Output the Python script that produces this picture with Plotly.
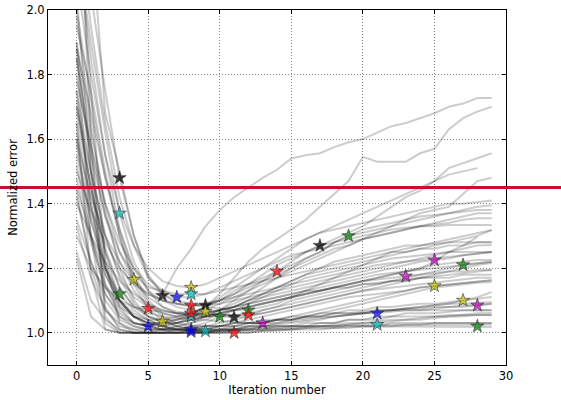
import plotly.graph_objects as go

iterations = list(range(30))

run01 = [2.60, 2.25, 1.68, 1.50, 1.30, 1.17, 1.12, 1.20, 1.26, 1.33, 1.38, 1.42, 1.45, 1.48, 1.505, 1.54, 1.55, 1.556, 1.575, 1.59, 1.60, 1.62, 1.64, 1.65, 1.665, 1.68, 1.70, 1.71, 1.727, 1.727]
run02 = [1.90, 1.50, 1.22, 1.10, 1.05, 1.03, 1.02, 1.03, 1.05, 1.08, 1.12, 1.17, 1.22, 1.26, 1.29, 1.32, 1.35, 1.39, 1.43, 1.47, 1.545, 1.53, 1.53, 1.53, 1.556, 1.57, 1.63, 1.665, 1.685, 1.70]
run03 = [1.75, 1.40, 1.15, 1.05, 1.02, 1.01, 1.01, 1.02, 1.03, 1.05, 1.07, 1.10, 1.13, 1.16, 1.19, 1.22, 1.25, 1.27, 1.29, 1.31, 1.33, 1.36, 1.39, 1.42, 1.44, 1.47, 1.51, 1.525, 1.54, 1.556]
run04 = [1.85, 1.55, 1.25, 1.10, 1.05, 1.03, 1.03, 1.04, 1.06, 1.08, 1.11, 1.14, 1.17, 1.20, 1.23, 1.26, 1.29, 1.31, 1.33, 1.35, 1.37, 1.39, 1.41, 1.43, 1.45, 1.47, 1.49, 1.50, 1.51, None]
run05 = [1.60, 1.30, 1.12, 1.05, 1.03, 1.02, 1.03, 1.04, 1.05, 1.07, 1.09, 1.11, 1.13, 1.15, 1.17, 1.19, 1.21, 1.23, 1.25, 1.27, 1.29, 1.31, 1.33, 1.35, 1.37, 1.38, 1.39, 1.43, 1.47, 1.48]
run06 = [2.40, 2.05, 1.75, 1.48, 1.30, 1.18, 1.12, 1.09, 1.08, 1.09, 1.10, 1.12, 1.14, 1.16, 1.18, 1.20, 1.22, 1.24, 1.26, 1.27, 1.29, 1.30, 1.31, 1.32, 1.33, 1.335, 1.34, 1.35, 1.355, 1.355]
run07 = [2.20, 1.90, 1.62, 1.37, 1.22, 1.13, 1.08, 1.06, 1.05, 1.05, 1.06, 1.07, 1.08, 1.09, 1.10, 1.11, 1.12, 1.13, 1.14, 1.15, 1.16, 1.17, 1.18, 1.19, 1.20, 1.21, 1.215, 1.22, 1.225, 1.225]
run08 = [1.65, 1.40, 1.20, 1.12, 1.07, 1.04, 1.02, 1.01, 1.01, 1.01, 1.02, 1.02, 1.03, 1.03, 1.04, 1.04, 1.05, 1.05, 1.06, 1.06, 1.06, 1.07, 1.07, 1.07, 1.07, 1.07, 1.07, 1.07, 1.07, 1.07]
run09 = [1.95, 1.75, 1.50, 1.30, 1.165, 1.09, 1.05, 1.03, 1.02, 1.02, 1.03, 1.04, 1.05, 1.07, 1.08, 1.10, 1.11, 1.12, 1.13, 1.14, 1.15, 1.155, 1.16, 1.165, 1.17, 1.175, 1.18, 1.185, 1.19, 1.194]
run10 = [1.88, 1.68, 1.48, 1.30, 1.15, 1.075, 1.04, 1.02, 1.01, 1.01, 1.01, 1.02, 1.02, 1.03, 1.04, 1.05, 1.06, 1.07, 1.08, 1.09, 1.10, 1.11, 1.12, 1.13, 1.14, 1.145, 1.15, 1.155, 1.16, 1.163]
run11 = [1.55, 1.35, 1.20, 1.10, 1.05, 1.02, 1.01, 1.00, 1.00, 1.00, 1.01, 1.01, 1.01, 1.02, 1.02, 1.02, 1.03, 1.03, 1.03, 1.04, 1.04, 1.04, 1.05, 1.05, 1.05, 1.05, 1.055, 1.055, 1.055, 1.055]
run12 = [1.70, 1.50, 1.30, 1.17, 1.09, 1.05, 1.035, 1.02, 1.01, 1.01, 1.01, 1.01, 1.02, 1.02, 1.02, 1.02, 1.02, 1.02, 1.02, 1.02, 1.02, 1.02, 1.03, 1.03, 1.03, 1.03, 1.03, 1.03, 1.03, 1.03]
run13 = [2.30, 1.95, 1.65, 1.42, 1.27, 1.17, 1.13, 1.11, 1.11, 1.12, 1.14, 1.16, 1.18, 1.20, 1.22, 1.24, 1.25, 1.26, 1.27, 1.28, 1.29, 1.30, 1.31, 1.32, 1.33, 1.34, 1.35, 1.36, 1.37, 1.37]
run14 = [2.10, 1.80, 1.55, 1.38, 1.27, 1.20, 1.16, 1.145, 1.14, 1.15, 1.17, 1.19, 1.21, 1.23, 1.25, 1.27, 1.29, 1.31, 1.32, 1.33, 1.34, 1.35, 1.36, 1.37, 1.38, 1.39, 1.40, 1.40, 1.405, 1.41]
run15 = [1.80, 1.55, 1.36, 1.25, 1.18, 1.14, 1.13, 1.12, 1.12, 1.12, 1.13, 1.14, 1.15, 1.16, 1.17, 1.18, 1.19, 1.20, 1.21, 1.22, 1.23, 1.24, 1.25, 1.25, 1.26, 1.26, 1.27, 1.27, 1.28, 1.28]
run16 = [1.60, 1.42, 1.30, 1.22, 1.16, 1.12, 1.10, 1.09, 1.085, 1.09, 1.10, 1.11, 1.12, 1.13, 1.14, 1.15, 1.16, 1.17, 1.18, 1.19, 1.20, 1.21, 1.215, 1.22, 1.225, 1.23, 1.235, 1.24, 1.245, 1.25]
run17 = [1.75, 1.50, 1.30, 1.18, 1.11, 1.08, 1.07, 1.06, 1.06, 1.06, 1.07, 1.08, 1.09, 1.10, 1.11, 1.12, 1.13, 1.13, 1.14, 1.14, 1.15, 1.15, 1.16, 1.16, 1.17, 1.17, 1.17, 1.18, 1.18, 1.18]
run18 = [1.45, 1.30, 1.18, 1.10, 1.06, 1.04, 1.02, 1.01, 1.005, 1.005, 1.01, 1.01, 1.02, 1.02, 1.03, 1.04, 1.05, 1.06, 1.07, 1.08, 1.09, 1.10, 1.11, 1.12, 1.13, 1.14, 1.145, 1.15, 1.155, 1.157]
run19 = [1.50, 1.38, 1.28, 1.20, 1.15, 1.12, 1.10, 1.09, 1.085, 1.085, 1.09, 1.10, 1.11, 1.12, 1.13, 1.14, 1.15, 1.16, 1.17, 1.18, 1.19, 1.20, 1.21, 1.22, 1.23, 1.24, 1.25, 1.26, 1.27, 1.272]
run20 = [2.00, 1.72, 1.48, 1.32, 1.20, 1.13, 1.10, 1.08, 1.07, 1.065, 1.07, 1.08, 1.10, 1.12, 1.14, 1.16, 1.18, 1.19, 1.20, 1.21, 1.22, 1.23, 1.24, 1.25, 1.26, 1.27, 1.28, 1.29, 1.30, 1.318]
run21 = [1.35, 1.22, 1.12, 1.06, 1.03, 1.02, 1.01, 1.01, 1.005, 1.005, 1.005, 1.01, 1.01, 1.01, 1.02, 1.02, 1.02, 1.03, 1.03, 1.04, 1.04, 1.05, 1.05, 1.06, 1.06, 1.06, 1.065, 1.07, 1.07, 1.07]
run22 = [1.90, 1.62, 1.40, 1.25, 1.16, 1.11, 1.08, 1.065, 1.06, 1.055, 1.05, 1.055, 1.06, 1.07, 1.08, 1.09, 1.10, 1.11, 1.12, 1.13, 1.14, 1.15, 1.16, 1.17, 1.18, 1.19, 1.20, 1.21, 1.215, 1.22]
run23 = [1.40, 1.30, 1.22, 1.16, 1.12, 1.09, 1.07, 1.06, 1.055, 1.05, 1.05, 1.048, 1.05, 1.06, 1.07, 1.08, 1.09, 1.10, 1.11, 1.12, 1.13, 1.14, 1.15, 1.16, 1.17, 1.18, 1.19, 1.20, 1.21, 1.216]
run24 = [1.62, 1.38, 1.20, 1.10, 1.05, 1.03, 1.02, 1.01, 1.005, 1.00, 1.00, 1.00, 1.00, 1.005, 1.01, 1.01, 1.015, 1.02, 1.02, 1.025, 1.03, 1.03, 1.035, 1.04, 1.04, 1.045, 1.05, 1.05, 1.055, 1.055]
run25 = [1.78, 1.58, 1.40, 1.28, 1.20, 1.15, 1.12, 1.10, 1.09, 1.08, 1.075, 1.07, 1.07, 1.08, 1.09, 1.11, 1.13, 1.15, 1.17, 1.19, 1.21, 1.23, 1.25, 1.26, 1.27, 1.28, 1.29, 1.30, 1.31, 1.318]
run26 = [1.30, 1.20, 1.14, 1.10, 1.08, 1.07, 1.065, 1.06, 1.06, 1.058, 1.056, 1.055, 1.055, 1.06, 1.07, 1.08, 1.09, 1.10, 1.11, 1.12, 1.13, 1.135, 1.14, 1.145, 1.15, 1.155, 1.16, 1.165, 1.17, 1.17]
run27 = [1.70, 1.45, 1.25, 1.14, 1.08, 1.06, 1.05, 1.045, 1.04, 1.04, 1.035, 1.035, 1.03, 1.03, 1.03, 1.035, 1.04, 1.045, 1.05, 1.055, 1.06, 1.065, 1.07, 1.075, 1.08, 1.085, 1.09, 1.09, 1.092, 1.095]
run28 = [2.20, 1.85, 1.55, 1.32, 1.18, 1.10, 1.06, 1.05, 1.06, 1.08, 1.10, 1.13, 1.15, 1.17, 1.19, 1.21, 1.23, 1.25, 1.28, 1.30, 1.31, 1.32, 1.33, 1.34, 1.35, 1.36, 1.37, 1.38, 1.39, 1.395]
run29 = [1.52, 1.30, 1.15, 1.08, 1.05, 1.04, 1.04, 1.05, 1.06, 1.08, 1.10, 1.12, 1.15, 1.18, 1.21, 1.23, 1.25, 1.27, 1.28, 1.29, 1.30, 1.31, 1.32, 1.325, 1.33, 1.33, 1.334, 1.334, 1.334, 1.334]
run30 = [1.98, 1.65, 1.38, 1.20, 1.10, 1.05, 1.03, 1.03, 1.04, 1.05, 1.07, 1.09, 1.11, 1.14, 1.17, 1.20, 1.23, 1.25, 1.28, 1.30, 1.32, 1.33, 1.34, 1.35, 1.36, 1.365, 1.37, 1.375, 1.38, 1.38]
run31 = [1.42, 1.22, 1.10, 1.04, 1.02, 1.01, 1.01, 1.01, 1.02, 1.02, 1.02, 1.03, 1.03, 1.03, 1.04, 1.04, 1.045, 1.05, 1.05, 1.055, 1.06, 1.06, 1.065, 1.07, 1.07, 1.075, 1.08, 1.08, 1.085, 1.09]
run32 = [1.25, 1.10, 1.04, 1.01, 1.00, 1.00, 1.00, 1.00, 1.005, 1.005, 1.01, 1.01, 1.01, 1.015, 1.015, 1.02, 1.02, 1.02, 1.02, 1.025, 1.025, 1.025, 1.025, 1.025, 1.025, 1.025, 1.025, 1.025, 1.025, 1.025]
run33 = [1.58, 1.35, 1.18, 1.09, 1.05, 1.03, 1.03, 1.03, 1.04, 1.05, 1.06, 1.07, 1.08, 1.09, 1.10, 1.11, 1.12, 1.13, 1.14, 1.15, 1.16, 1.165, 1.17, 1.175, 1.18, 1.185, 1.19, 1.19, 1.194, 1.194]
run34 = [1.85, 1.58, 1.36, 1.22, 1.13, 1.08, 1.06, 1.05, 1.05, 1.06, 1.07, 1.08, 1.10, 1.11, 1.12, 1.13, 1.14, 1.15, 1.16, 1.17, 1.18, 1.19, 1.20, 1.21, 1.22, 1.225, 1.23, 1.24, 1.245, 1.25]
run35 = [1.48, 1.28, 1.14, 1.07, 1.03, 1.02, 1.01, 1.01, 1.01, 1.02, 1.02, 1.03, 1.04, 1.05, 1.06, 1.07, 1.08, 1.09, 1.10, 1.11, 1.115, 1.12, 1.125, 1.13, 1.14, 1.145, 1.15, 1.155, 1.16, 1.163]
run36 = [1.68, 1.45, 1.26, 1.14, 1.08, 1.05, 1.04, 1.04, 1.05, 1.06, 1.07, 1.08, 1.09, 1.10, 1.11, 1.12, 1.13, 1.14, 1.15, 1.16, 1.17, 1.18, 1.185, 1.19, 1.195, 1.20, 1.205, 1.21, 1.215, 1.22]
run37 = [1.33, 1.17, 1.07, 1.03, 1.01, 1.01, 1.01, 1.01, 1.01, 1.02, 1.02, 1.03, 1.03, 1.04, 1.04, 1.05, 1.05, 1.06, 1.06, 1.07, 1.07, 1.08, 1.08, 1.085, 1.09, 1.09, 1.095, 1.10, 1.11, 1.126]
run38 = [1.44, 1.20, 1.07, 1.02, 1.01, 1.00, 1.00, 1.00, 1.01, 1.01, 1.02, 1.02, 1.03, 1.03, 1.04, 1.04, 1.05, 1.05, 1.06, 1.06, 1.065, 1.07, 1.07, 1.075, 1.075, 1.08, 1.08, 1.085, 1.085, 1.09]
run39 = [1.23, 1.05, 1.01, 1.00, 1.00, 1.00, 1.00, 1.00, 1.00, 1.00, 1.005, 1.005, 1.01, 1.01, 1.01, 1.01, 1.015, 1.015, 1.015, 1.02, 1.02, 1.02, 1.02, 1.02, 1.02, 1.02, 1.02, 1.02, 1.02, 1.018]
run40 = [2.50, 1.60, 1.05, 1.00, 1.00, 1.00, 1.00, 1.00, 1.00, 1.00, 1.00, 1.005, 1.005, 1.01, 1.01, 1.015, 1.02, 1.02, 1.025, 1.03, 1.03, 1.035, 1.04, 1.04, 1.045, 1.05, 1.05, 1.055, 1.06, 1.061]
run41 = [2.05, 1.50, 1.08, 1.01, 1.00, 1.00, 1.00, 1.00, 1.00, 1.00, 1.005, 1.01, 1.015, 1.02, 1.025, 1.03, 1.035, 1.04, 1.05, 1.055, 1.06, 1.065, 1.07, 1.075, 1.08, 1.085, 1.09, 1.10, 1.105, 1.111]
run42 = [1.88, 1.30, 1.03, 1.00, 1.00, 1.00, 1.01, 1.02, 1.03, 1.04, 1.06, 1.08, 1.10, 1.12, 1.14, 1.16, 1.18, 1.20, 1.22, 1.23, 1.24, 1.25, 1.26, 1.27, 1.27, 1.275, 1.28, 1.28, 1.28, 1.28]
run43 = [1.65, 1.18, 1.01, 1.00, 1.00, 1.00, 1.00, 1.00, 1.00, 1.00, 1.00, 1.00, 1.00, 1.005, 1.005, 1.01, 1.01, 1.01, 1.015, 1.015, 1.02, 1.02, 1.02, 1.025, 1.025, 1.03, 1.03, 1.03, 1.03, 1.03]
run44 = [2.35, 1.75, 1.22, 1.03, 1.00, 1.00, 1.00, 1.01, 1.02, 1.03, 1.05, 1.07, 1.09, 1.11, 1.13, 1.15, 1.17, 1.18, 1.19, 1.20, 1.21, 1.22, 1.23, 1.235, 1.24, 1.245, 1.25, 1.25, 1.25, 1.25]
run45 = [1.72, 1.45, 1.20, 1.08, 1.03, 1.02, 1.02, 1.03, 1.04, 1.05, 1.06, 1.07, 1.08, 1.09, 1.10, 1.11, 1.12, 1.13, 1.14, 1.15, 1.16, 1.17, 1.18, 1.19, 1.20, 1.22, 1.25, 1.27, 1.297, None]

runs = [run01, run02, run03, run04, run05, run06, run07, run08, run09, run10,
        run11, run12, run13, run14, run15, run16, run17, run18, run19, run20,
        run21, run22, run23, run24, run25, run26, run27, run28, run29, run30,
        run31, run32, run33, run34, run35, run36, run37, run38, run39, run40,
        run41, run42, run43, run44, run45]

star_x = [3, 3, 3, 4, 5, 5, 6, 6, 7, 8, 8, 8, 8, 8, 8, 8, 9, 9, 9, 10, 11, 11, 12, 12, 13, 14, 17, 19, 21, 21, 23, 25, 25, 27, 27, 28, 28]
star_y = [1.48, 1.37, 1.12, 1.165, 1.075, 1.02, 1.035, 1.115, 1.11, 1.14, 1.12, 1.085, 1.05, 1.06, 1.01, 1.003, 1.085, 1.065, 1.005, 1.05, 1.048, 1.0, 1.07, 1.055, 1.03, 1.19, 1.27, 1.30, 1.06, 1.025, 1.175, 1.225, 1.145, 1.21, 1.10, 1.085, 1.02]
star_c = ["k", "c", "g", "y", "r", "b", "y", "k", "b", "y", "c", "r", "c", "r", "b", "b", "k", "y", "c", "g", "k", "r", "g", "r", "m", "r", "k", "g", "b", "c", "m", "m", "y", "g", "y", "m", "g"]

threshold = 1.45
x_range = [-2, 30]
y_range = [0.9, 2.0]
x_ticks = [0, 5, 10, 15, 20, 25, 30]
y_ticks = [1.0, 1.2, 1.4, 1.6, 1.8, 2.0]

palette = {"b": "rgba(0,0,255,0.7)", "g": "rgba(0,128,0,0.7)", "r": "rgba(255,0,0,0.7)",
           "c": "rgba(0,191,191,0.7)", "m": "rgba(191,0,191,0.7)", "y": "rgba(191,191,0,0.7)",
           "k": "rgba(0,0,0,0.75)"}

fig = go.Figure()
for r in runs:
    fig.add_trace(go.Scatter(x=iterations[:len(r)], y=r, mode="lines",
                             line=dict(color="rgba(0,0,0,0.2)", width=2),
                             hoverinfo="skip", connectgaps=False))

fig.add_trace(go.Scatter(x=star_x, y=star_y, mode="markers",
                         marker=dict(symbol="star", size=10,
                                     color=[palette[c] for c in star_c],
                                     line=dict(color="rgba(40,40,40,0.8)", width=0.7))))

y_paper = (threshold - y_range[0]) / (y_range[1] - y_range[0])
fig.add_shape(type="line", xref="paper", yref="paper", x0=-0.2, x1=1.3,
              y0=y_paper, y1=y_paper, line=dict(color="#c8102e", width=3), layer="above")

axis_common = dict(showline=True, linecolor="black", linewidth=1, mirror="ticks",
                   ticks="inside", ticklen=4, tickcolor="black",
                   showgrid=True, gridcolor="#8a8a8a", gridwidth=1, griddash="1px,2px",
                   zeroline=False, automargin=False, tickfont=dict(size=11.5, color="black"))

fig.update_xaxes(range=x_range, tickvals=x_ticks, ticktext=[str(v) for v in x_ticks],
                 title=dict(text="Iteration number", font=dict(size=11.5, color="black"), standoff=4),
                 **axis_common)
fig.update_yaxes(range=y_range, tickvals=y_ticks, ticktext=[f"{v:.1f}" for v in y_ticks],
                 title=dict(text="Normalized error", font=dict(size=11.5, color="black"), standoff=6),
                 **axis_common)

fig.update_layout(width=561, height=400, showlegend=False,
                  margin=dict(l=48, r=55, t=10, b=35),
                  paper_bgcolor="white", plot_bgcolor="white",
                  font=dict(family="DejaVu Sans", size=11.5, color="black"))

fig.write_html("out.html", config={"displayModeBar": False},
               post_script="document.body.style.margin='0';")
